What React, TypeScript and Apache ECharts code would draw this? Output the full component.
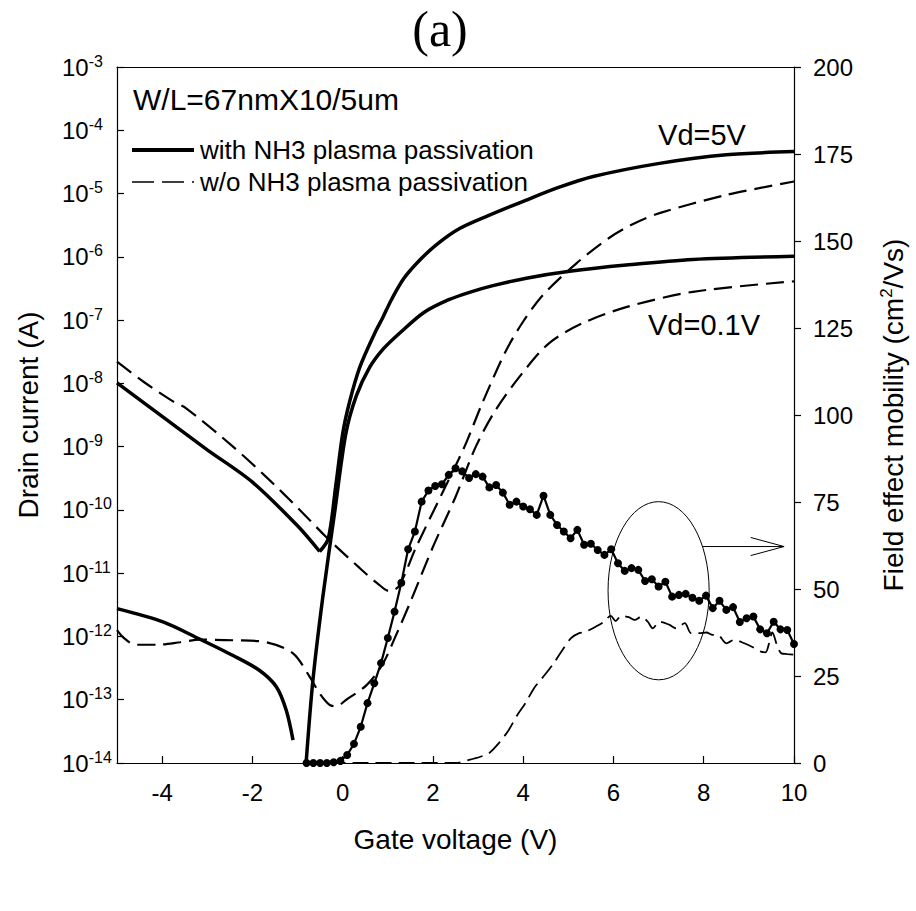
import React, { useEffect, useRef } from "react";
import * as echarts from "echarts";

const FONT = '"Liberation Sans", Arial, sans-serif';
const SERIF = '"Liberation Serif", "Times New Roman", serif';

const WITH = "with NH3 plasma passivation";
const WITHOUT = "w/o NH3 plasma passivation";

// Gate voltage tick labels
const gateTicks = [-4, -2, 0, 2, 4, 6, 8, 10];
// Drain current tick values (A)
const currentTicks = [1e-14, 1e-13, 1e-12, 1e-11, 1e-10, 1e-9, 1e-8, 1e-7, 1e-6, 1e-5, 1e-4, 1e-3];

// Drain current (A) vs gate voltage (V)
const withVd5Off: [number, number][] = [
  [-5, 1.02e-8], [-4, 3.0e-9], [-3, 8.9e-10], [-2, 2.75e-10], [-1, 5.6e-11],
  [-0.51, 2.2e-11],
];
const withVd5On: [number, number][] = [
  [-0.51, 2.2e-11], [-0.32, 3.5e-11], [-0.15, 2.5e-10], [0.0, 1.6e-9], [0.15, 5.0e-9],
  [0.38, 1.8e-8], [0.71, 6.2e-8], [0.89, 1.1e-7], [1.08, 2.1e-7], [1.35, 4.5e-7],
  [1.71, 8.9e-7], [2.1, 1.6e-6], [2.59, 2.8e-6], [3.2, 4.4e-6], [4.07, 7.9e-6],
  [4.8, 1.26e-5], [5.55, 1.86e-5], [7.02, 3.0e-5], [8.5, 4.1e-5], [10, 4.6e-5],
];
const withVd01Off: [number, number][] = [
  [-5, 2.75e-12], [-3.98, 1.7e-12], [-3.17, 9.1e-13], [-2.43, 5.0e-13], [-1.84, 2.9e-13],
  [-1.47, 1.6e-13], [-1.25, 6.8e-14], [-1.1, 2.3e-14],
];
const withVd01On: [number, number][] = [
  [-0.81, 1.0e-14], [-0.66, 2.0e-13], [-0.44, 4.2e-12], [-0.18, 8.9e-11], [0.07, 1.6e-9],
  [0.3, 6.3e-9], [0.6, 1.8e-8], [0.9, 3.5e-8], [1.26, 6.2e-8], [1.8, 1.32e-7],
  [2.35, 2.1e-7], [2.81, 2.75e-7], [3.33, 3.5e-7], [4.07, 4.6e-7], [5.03, 5.9e-7],
  [6.28, 7.4e-7], [7.76, 9.1e-7], [10, 1.02e-6],
];
const woVd5: [number, number][] = [
  [-5, 2.2e-8], [-4.42, 1.07e-8], [-3.76, 5.2e-9], [-3.46, 4.0e-9], [-2.43, 1.0e-9],
  [-1.69, 3.3e-10], [-0.95, 1.0e-10], [-0.36, 3.7e-11], [0.38, 1.2e-11], [0.75, 7.1e-12],
  [1.04, 5.2e-12], [1.25, 6.3e-12], [1.63, 2.6e-11], [2.2, 1.8e-10], [2.7, 1.0e-9],
  [3.1, 5.0e-9], [3.61, 3.2e-8], [4.0, 9.5e-8], [4.44, 2.5e-7], [5.18, 7.9e-7],
  [5.91, 2.0e-6], [6.4, 3.2e-6], [7.02, 4.9e-6], [8.5, 9.5e-6], [10, 1.55e-5],
];
const woVd01: [number, number][] = [
  [-5, 1.26e-12], [-4.85, 9.5e-13], [-4.6, 7.4e-13], [-4.1, 7.4e-13], [-3.6, 8.1e-13],
  [-3.17, 8.9e-13], [-2.4, 8.7e-13], [-1.69, 8.1e-13], [-1.1, 5.4e-13], [-0.73, 2.3e-13],
  [-0.51, 1.26e-13], [-0.29, 8.3e-14], [-0.14, 7.9e-14], [0.08, 1.0e-13], [0.53, 1.7e-13],
  [0.89, 3.7e-13], [1.2, 1.12e-12], [1.5, 3.5e-12], [2.0, 2.6e-11], [2.5, 1.6e-10],
  [2.95, 1.0e-9], [3.39, 3.8e-9], [3.98, 1.45e-8], [4.57, 4.3e-8], [5.31, 8.9e-8],
  [6.28, 1.6e-7], [7.76, 2.8e-7], [10, 4.1e-7],
];

// Field effect mobility (cm2/Vs) vs gate voltage (V)
const mobilityWith: [number, number][] = [
  [-0.8, 0], [-0.65, 0], [-0.5, 0], [-0.35, 0], [-0.2, 0.2], [-0.05, 0.6], [0.1, 2.3],
  [0.25, 5.5], [0.4, 10.4], [0.55, 17.2], [0.7, 22.9], [0.85, 28.7], [1.0, 35.9],
  [1.15, 43.5], [1.3, 51.8], [1.45, 61.4], [1.6, 66.5], [1.75, 75.1], [1.9, 78.3],
  [2.05, 79.6], [2.2, 80.1], [2.35, 82.8], [2.5, 84.7], [2.65, 83.8], [2.8, 81.9],
  [2.95, 83.0], [3.1, 82.3], [3.25, 79.2], [3.4, 79.9], [3.55, 77.7], [3.7, 74.2],
  [3.85, 75.1], [4.0, 73.7], [4.15, 72.9], [4.3, 71.3], [4.45, 76.8], [4.6, 71.3],
  [4.75, 68.4], [4.9, 66.5], [5.05, 64.6], [5.2, 67.0], [5.35, 62.7], [5.5, 63.0],
  [5.65, 61.2], [5.8, 59.8], [5.95, 61.4], [6.1, 57.4], [6.25, 55.2], [6.4, 56.0],
  [6.55, 55.5], [6.7, 52.3], [6.85, 52.8], [7.0, 50.7], [7.15, 52.1], [7.3, 47.8],
  [7.45, 48.3], [7.6, 48.6], [7.75, 47.5], [7.9, 46.6], [8.05, 48.1], [8.2, 44.5],
  [8.35, 46.6], [8.5, 44.0], [8.65, 44.8], [8.8, 40.5], [8.95, 41.6], [9.1, 42.1],
  [9.25, 38.4], [9.4, 37.3], [9.55, 40.6], [9.7, 38.4], [9.85, 38.2], [10.0, 34.2],
];
const mobilityWithout: [number, number][] = [
  [-0.8, 0], [2.5, 0], [2.8, 0.9], [3.05, 1.8], [3.24, 2.8], [3.46, 5.7], [3.68, 9.5],
  [3.87, 13.8], [4.05, 17.2], [4.24, 21.5], [4.42, 24.4], [4.65, 28.2], [4.87, 32.5],
  [5.06, 35.9], [5.24, 37.3], [5.38, 37.7], [5.61, 39.2], [5.79, 40.6], [5.94, 42.3],
  [6.05, 40.8], [6.17, 42.3], [6.34, 41.9], [6.47, 41.1], [6.62, 42.1], [6.76, 40.6],
  [6.87, 38.7], [7.02, 40.6], [7.24, 39.7], [7.39, 38.7], [7.58, 40.2], [7.72, 37.3],
  [7.9, 37.3], [8.06, 37.5], [8.2, 36.8], [8.31, 36.8], [8.5, 34.4], [8.68, 35.4],
  [8.9, 34.4], [9.1, 33.2], [9.27, 32.0], [9.37, 31.8], [9.45, 34.5], [9.52, 37.5],
  [9.63, 33.6], [9.72, 31.5], [9.85, 31.3], [10.0, 31.1],
];

// Annotation: ellipse (center V, center mobility, width V, height mobility) and arrow
const ellipseAnno = [[7.0, 49.5, 2.24, 51.2]];
const arrowShaft: [number, number][] = [[7.97, 62.2], [9.78, 62.2]];
const arrowHead: [number, number][] = [[9.04, 64.8], [9.78, 62.2], [9.04, 59.6]];

export default function App() {
  const ref = useRef<HTMLDivElement>(null);
  useEffect(() => {
    if (!ref.current) return;
    const chart = echarts.init(ref.current, null, { renderer: "svg" });
    const axisLineStyle = { color: "#000", width: 1.2 };
    const solid = { color: "#000", width: 3.5 };
    const dashed = { color: "#000", width: 2.2, type: [18, 8] };
    const ivLine = (name: string, data: [number, number][], lineStyle: any, z: number) => ({
      name, type: "line", yAxisIndex: 0, data, symbol: "none", smooth: 0.3,
      lineStyle, itemStyle: { color: "#000" }, z,
    });
    const option: any = {
      animation: false,
      backgroundColor: "#fff",
      textStyle: { fontFamily: FONT, color: "#000" },
      grid: { left: 117, right: 122, top: 67, bottom: 148, outerBoundsMode: "none" },
      legend: {
        orient: "vertical",
        left: 125,
        top: 132,
        itemWidth: 62,
        itemHeight: 14,
        itemGap: 6,
        selectedMode: false,
        textStyle: { fontSize: 26, fontFamily: FONT, color: "#000", padding: [0, 0, 0, 1] },
        data: [
          { name: WITH, itemStyle: { opacity: 0 }, lineStyle: { width: 4, type: "solid", color: "#000" } },
          { name: WITHOUT, itemStyle: { opacity: 0 }, lineStyle: { width: 1.6, type: [22, 8], color: "#000" } },
        ],
      },
      graphic: [
        { type: "text", x: 440, y: 29, style: { text: "(a)", fontSize: 50, fontFamily: SERIF, fill: "#000", align: "center", verticalAlign: "middle", textAlign: "center", textVerticalAlign: "middle" } },
        { type: "text", x: 133, y: 99, style: { text: "W/L=67nmX10/5um", fontSize: 30, fontFamily: FONT, fill: "#000", align: "left", verticalAlign: "middle", textAlign: "left", textVerticalAlign: "middle" } },
        { type: "text", x: 702, y: 135, style: { text: "Vd=5V", fontSize: 29, fontFamily: FONT, fill: "#000", align: "center", verticalAlign: "middle", textAlign: "center", textVerticalAlign: "middle" } },
        { type: "text", x: 704, y: 325, style: { text: "Vd=0.1V", fontSize: 29, fontFamily: FONT, fill: "#000", align: "center", verticalAlign: "middle", textAlign: "center", textVerticalAlign: "middle" } },
      ],
      xAxis: [
        {
          type: "value", min: -5, max: 10, position: "bottom",
          name: "Gate voltage (V)", nameLocation: "middle", nameGap: 62,
          nameTextStyle: { fontSize: 28, fontFamily: FONT, color: "#000" },
          axisLine: { show: true, onZero: false, lineStyle: axisLineStyle },
          axisTick: { show: true, inside: true, length: 7, customValues: gateTicks, lineStyle: axisLineStyle },
          axisLabel: { customValues: gateTicks, fontSize: 24, fontFamily: FONT, color: "#000", margin: 17 },
          splitLine: { show: false },
        },
        {
          type: "value", min: -5, max: 10, position: "top",
          axisLine: { show: true, onZero: false, lineStyle: axisLineStyle },
          axisTick: { show: false }, axisLabel: { show: false }, splitLine: { show: false },
        },
      ],
      yAxis: [
        {
          type: "log", logBase: 10, min: 1e-14, max: 1e-3, position: "left",
          name: "Drain current (A)", nameLocation: "middle", nameGap: 75,
          nameTextStyle: { fontSize: 28, fontFamily: FONT, color: "#000" },
          axisLine: { show: true, onZero: false, lineStyle: axisLineStyle },
          axisTick: { show: true, inside: true, length: 7, customValues: currentTicks, lineStyle: axisLineStyle },
          minorTick: { show: false },
          splitLine: { show: false },
          axisLabel: {
            margin: 55,
            align: "left",
            customValues: currentTicks,
            formatter: (v: number) => "{b|10}{s|" + Math.round(Math.log10(v)) + "}",
            rich: {
              b: { fontSize: 24, fontFamily: FONT, color: "#000", lineHeight: 28 },
              s: { fontSize: 16, fontFamily: FONT, color: "#000", lineHeight: 17, verticalAlign: "top" },
            },
          },
        },
        {
          type: "value", min: 0, max: 200, interval: 25, position: "right",
          name: "Field effect mobility (cm{s|2}/Vs)", nameLocation: "middle", nameGap: 84,
          nameTextStyle: {
            fontSize: 28, fontFamily: FONT, color: "#000", lineHeight: 30,
            rich: { s: { fontSize: 17, fontFamily: FONT, color: "#000", lineHeight: 18, verticalAlign: "top" } },
          },
          axisLine: { show: true, onZero: false, lineStyle: axisLineStyle },
          axisTick: { show: true, inside: false, length: 7, lineStyle: axisLineStyle },
          axisLabel: { fontSize: 24, fontFamily: FONT, color: "#000", margin: 19 },
          splitLine: { show: false },
        },
      ],
      series: [
        ivLine(WITH, withVd5Off, solid, 3),
        ivLine(WITH, withVd5On, solid, 3),
        ivLine(WITH, withVd01Off, solid, 3),
        ivLine(WITH, withVd01On, solid, 3),
        ivLine(WITHOUT, woVd5, dashed, 2),
        ivLine(WITHOUT, woVd01, dashed, 2),
        { name: WITH, type: "line", yAxisIndex: 1, data: mobilityWith, symbol: "circle", symbolSize: 8, showAllSymbol: true, lineStyle: { color: "#000", width: 2.2 }, itemStyle: { color: "#000" }, z: 4 },
        { name: WITHOUT, type: "line", yAxisIndex: 1, data: mobilityWithout, symbol: "none", smooth: 0.3, lineStyle: { color: "#000", width: 1.8, type: [16, 7] }, itemStyle: { color: "#000" }, z: 2 },
        {
          type: "custom", xAxisIndex: 0, yAxisIndex: 1, data: ellipseAnno, silent: true, clip: false, z: 5,
          encode: { x: 0, y: 1 },
          renderItem: (params: any, api: any) => {
            const c = api.coord([api.value(0), api.value(1)]);
            const sz = api.size([api.value(2), api.value(3)]);
            const a0 = api.coord(arrowShaft[0]);
            const a1 = api.coord(arrowShaft[1]);
            const head = arrowHead.map((p) => api.coord(p));
            return {
              type: "group",
              children: [
                { type: "ellipse", shape: { cx: c[0], cy: c[1], rx: sz[0] / 2, ry: sz[1] / 2 }, style: { fill: "none", stroke: "#000", lineWidth: 1 } },
                { type: "line", shape: { x1: a0[0], y1: a0[1], x2: a1[0], y2: a1[1] }, style: { stroke: "#000", lineWidth: 1 } },
                { type: "polyline", shape: { points: head }, style: { fill: "none", stroke: "#000", lineWidth: 1 } },
              ],
            };
          },
        },
      ],
    };
    chart.setOption(option);
    return () => chart.dispose();
  }, []);
  return (
    <div
      ref={ref}
      style={{ position: "absolute", left: 0, top: 0, width: 916, height: 911, background: "#fff" }}
    />
  );
}
